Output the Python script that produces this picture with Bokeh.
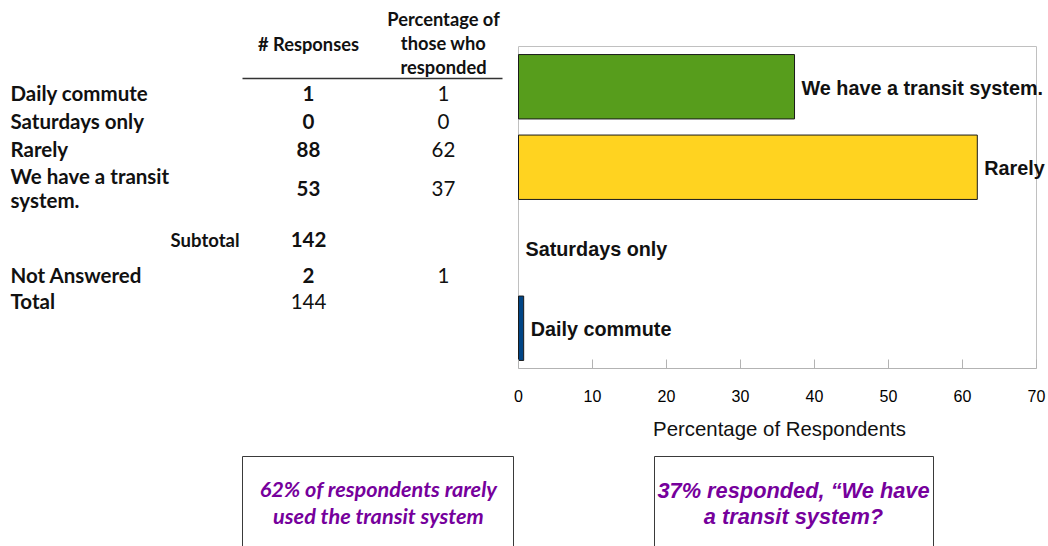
from bokeh.plotting import figure
from bokeh.layouts import column
from bokeh.models import (ColumnDataSource, Range1d, LabelSet,
                          BoxAnnotation, Arrow, FixedTicker)
from bokeh.core.properties import value
from bokeh.embed import file_html
from bokeh.resources import INLINE

# ---------------- data ----------------
categories = ["Daily commute", "Saturdays only", "Rarely", "We have a transit system."]
percentages = [0.7, 0.0, 62.0, 37.3]
bar_colors = ["#004586", "#ff420e", "#ffd320", "#579d1c"]

table_rows = ["Daily commute", "Saturdays only", "Rarely", "We have a transit\nsystem."]
table_responses = ["1", "0", "88", "53"]
table_percent = ["1", "0", "62", "37"]
subtotal_label = "Subtotal"
subtotal_value = "142"
not_answered_label = "Not Answered"
not_answered_responses = "2"
not_answered_percent = "1"
total_label = "Total"
total_value = "144"
col_headers = ["# Responses", "Percentage of\nthose who\nresponded"]

x_ticks = [0, 10, 20, 30, 40, 50, 60, 70]
x_label = "Percentage of Respondents"
notes = ["62% of respondents rarely\nused the transit system",
         "37% responded, \u201cWe have\na transit system?"]

# ---------------- layout (page pixels) ----------------
W = 1048
TOP_H, BOT_H = 412, 134
PL, PR, PT, PB = 518, 1036, 46, 368      # bar-chart plot area
n = len(categories)
xmin, xmax = x_ticks[0], x_ticks[-1]
ppu = (PR - PL) / (xmax - xmin)           # pixels per x unit
ppc = (PB - PT) / n                       # pixels per category

row_y = [92.5, 120.5, 148.5, 187.5]
sub_y, na_y, tot_y = 239, 274.5, 300.5
lab_x, resp_x, pct_x, sub_x = 10, 308, 443, 239
LINE = 24                                  # table line spacing

TABLE_FONT = value("Lato")
CHART_FONT = value("Liberation Sans")
INK = "#111111"
PURPLE = "#76009c"


def split_lines(texts, xs, ys, step):
    """Split multi-line texts into single lines centred on the given y."""
    ox, oy, ot = [], [], []
    for t, x, y in zip(texts, xs, ys):
        parts = t.split("\n")
        for i, part in enumerate(parts):
            ox.append(x)
            oy.append(y + (i - (len(parts) - 1) / 2) * step)
            ot.append(part)
    return ox, oy, ot


def labels(xs, ys, texts, align="left", style="bold", font=TABLE_FONT, size="20.5px",
           color=INK, step=LINE, rx="px", ry="py"):
    xs, ys, texts = split_lines(texts, xs, ys, step)
    s = ColumnDataSource(dict(x=xs, y=ys, t=texts))
    kw = {}
    if rx:
        kw = dict(x_range_name=rx, y_range_name=ry)
    return LabelSet(x="x", y="y", text="t", source=s, text_align=align,
                    text_baseline="middle", text_font=font, text_font_style=style,
                    text_font_size=size, text_color=color, **kw)


# ---------------- top figure: table + bar chart ----------------
p = figure(width=W, height=TOP_H, output_backend="svg", toolbar_location=None,
           title=None,
           x_range=Range1d(xmin - PL / ppu, xmax + (W - PR) / ppu),
           y_range=Range1d(-0.5, n - 0.5 + PT / ppc),
           y_axis_location=None,
           min_border_left=0, min_border_right=0,
           min_border_top=0, min_border_bottom=TOP_H - PB)
p.extra_x_ranges = {"px": Range1d(0, W)}
p.extra_y_ranges = {"py": Range1d(PB, 0)}

p.outline_line_color = None
p.grid.visible = False
p.background_fill_color = "white"
p.border_fill_color = "white"

ax = p.xaxis[0]
ax.bounds = (xmin, xmax)
ax.ticker = FixedTicker(ticks=x_ticks)
ax.major_tick_in = 9
ax.major_tick_out = 0
ax.minor_tick_line_color = None
ax.axis_line_color = "#b3b3b3"
ax.major_tick_line_color = "#b3b3b3"
ax.major_label_text_font = "Liberation Sans"
ax.major_label_text_font_size = "16px"
ax.major_label_text_color = "#000000"
ax.major_label_standoff = 21

# plot-area border
p.quad(left=[xmin], right=[xmax], bottom=[-0.5], top=[n - 0.5],
       fill_color=None, line_color="#c0c0c0", line_width=1)

# bars
src = ColumnDataSource(dict(
    pos=list(range(n)), cat=categories, val=percentages, color=bar_colors,
    lc=["#1a1a1a" if v > 0 else None for v in percentages]))
p.hbar(y="pos", left=0, right="val", height=0.8, fill_color="color",
       line_color="lc", line_width=1, source=src)
p.add_layout(LabelSet(x="val", y="pos", text="cat", source=src, x_offset=7, y_offset=-1,
                      text_baseline="middle", text_align="left",
                      text_font=CHART_FONT, text_font_style="bold",
                      text_font_size="19.8px", text_color=INK))

# table
p.add_layout(labels([lab_x] * (len(table_rows) + 2), row_y + [na_y, tot_y],
                    table_rows + [not_answered_label, total_label]))
p.add_layout(labels([sub_x], [sub_y], [subtotal_label], align="right", size="18.5px"))
p.add_layout(labels([resp_x] * (len(table_responses) + 2), row_y + [sub_y, na_y],
                    table_responses + [subtotal_value, not_answered_responses],
                    align="center"))
p.add_layout(labels([resp_x], [tot_y], [total_value], align="center", style="normal"))
p.add_layout(labels([pct_x] * (len(table_percent) + 1), row_y + [na_y],
                    table_percent + [not_answered_percent], align="center", style="normal"))
p.add_layout(labels([resp_x, pct_x], [43, 42], col_headers, align="center", size="18.3px"))
p.add_layout(Arrow(x_start=242, y_start=78, x_end=502, y_end=78, start=None, end=None,
                   line_color="#333333", line_width=1.5,
                   x_range_name="px", y_range_name="py"))

# ---------------- bottom figure: axis title + note boxes ----------------
q = figure(width=W, height=BOT_H, output_backend="svg", toolbar_location=None,
           title=None, x_range=Range1d(0, W), y_range=Range1d(TOP_H + BOT_H, TOP_H),
           x_axis_location=None, y_axis_location=None,
           min_border_left=0, min_border_right=0, min_border_top=0, min_border_bottom=0)
q.outline_line_color = None
q.grid.visible = False
q.background_fill_color = "white"
q.border_fill_color = "white"

q.add_layout(labels([(PL + PR) / 2 + 2], [428], [x_label], align="center", style="normal",
                    font=CHART_FONT, size="20.4px", rx=None))

for l, r in [(242, 513), (654, 933)]:
    q.add_layout(BoxAnnotation(left=l, right=r, top=456, bottom=620,
                               fill_alpha=0, line_color="#3a3a3a", line_alpha=1,
                               line_width=1))
q.add_layout(labels([378], [501.5], [notes[0]], align="center", style="bold italic",
                    size="21.7px", color=PURPLE, step=27, rx=None))
q.add_layout(labels([793], [503], [notes[1]], align="center", style="bold italic",
                    font=CHART_FONT, size="21.8px", color=PURPLE, step=26, rx=None))

layout = column(p, q, spacing=0)
open("out.html", "w").write(file_html(layout, INLINE))
